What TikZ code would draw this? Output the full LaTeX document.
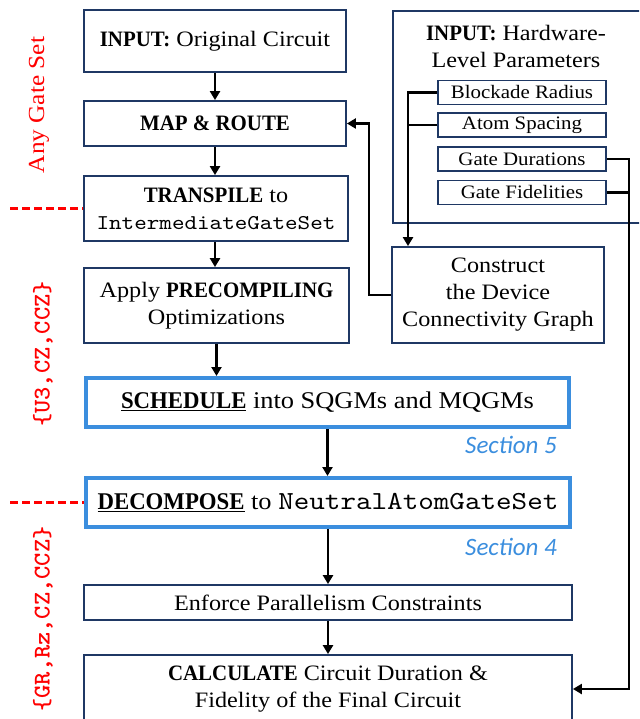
\documentclass[tikz,border=0pt]{standalone}
\usepackage{fontspec}
\setmainfont{Liberation Serif}[FakeStretch=1.1,BoldFeatures={FakeStretch=0.95}]
\newfontfamily\mytt{lmmono10-regular.otf}[FakeStretch=1.14]
\newfontfamily\redtt{lmmonolt10-bold.otf}[FakeStretch=1.05]
\newfontfamily\secfont{Carlito}
\usetikzlibrary{arrows.meta}
\definecolor{navy}{RGB}{31,56,100}
\definecolor{sblue}{RGB}{59,142,222}
\definecolor{lred}{RGB}{255,0,0}
\tikzset{
 box/.style={draw=navy, line width=1.8pt, fill=white, inner sep=0pt, align=center, font=\fontsize{22}{27}\selectfont},
 bluebox/.style={draw=sblue, line width=4pt, fill=white, inner sep=0pt, align=center, font=\fontsize{24}{29}\selectfont},
 parbox/.style={draw=navy, line width=1.5pt, fill=white, inner sep=0pt, font=\fontsize{19}{22}\selectfont, minimum width=168pt, minimum height=24pt},
 conn/.style={line width=2.6pt, draw=black},
 arr/.style={conn, -{Triangle[length=9pt,width=10pt]}},
 reddash/.style={draw=lred, line width=2.6pt, dash pattern=on 8pt off 4pt},
 redlab/.style={text=lred, rotate=90, inner sep=0pt},
 seclab/.style={text=sblue, font=\fontsize{25}{30}\secfont\itshape, anchor=east, inner sep=0pt},
}
\begin{document}
\begin{tikzpicture}[x=1pt,y=-1pt]
\useasboundingbox (0,0) rectangle (639,719);
\clip (0,0) rectangle (639,719);

% hardware parameters box
\node[draw=navy, line width=1.8pt, minimum width=330pt, minimum height=212pt, inner sep=0pt, anchor=north west] (hw) at (392,10) {};
\node[font=\fontsize{22}{27}\selectfont, align=center, inner sep=0pt] (hwt) at (516,46) {\textbf{INPUT:} Hardware-\\Level Parameters};
\node[parbox] (br) at (522,92.5) {Blockade Radius};
\node[parbox] (as) at (522,125) {Atom Spacing};
\node[parbox] (gd) at (522,159) {Gate Durations};
\node[parbox] (gf) at (522,192.5) {Gate Fidelities};

% main flow
\node[box, minimum width=262pt, minimum height=62pt] (in1) at (215,41) {\textbf{INPUT:} Original Circuit};
\node[box, minimum width=262pt, minimum height=45pt] (map) at (215,123.5) {\textbf{MAP \& ROUTE}};
\node[box, minimum width=264pt, minimum height=65pt] (trans) at (216,208.5) {\textbf{TRANSPILE} to\\{\fontsize{21}{27}\mytt IntermediateGateSet}};
\node[box, minimum width=265pt, minimum height=75pt] (pre) at (216.5,305.5) {Apply \textbf{PRECOMPILING}\\Optimizations};
\node[box, minimum width=212pt, minimum height=96pt] (con) at (498,295) {Construct\\the Device\\Connectivity Graph};
\node[bluebox, minimum width=483pt, minimum height=49pt] (sch) at (327.5,402.5) {\underline{\textbf{SCHEDULE}} into SQGMs and MQGMs};
\node[bluebox, minimum width=484pt, minimum height=49pt] (dec) at (328,502.5) {\underline{\textbf{DECOMPOSE}} to {\fontsize{26}{29}\mytt NeutralAtomGateSet}};
\node[box, minimum width=488pt, minimum height=35pt] (enf) at (328,602.5) {Enforce Parallelism Constraints};
\node[box, minimum width=488pt, minimum height=68pt] (calc) at (328,689) {\textbf{CALCULATE} Circuit Duration \&\\Fidelity of the Final Circuit};

% section labels
\node[seclab] (s5) at (557,445) {Section 5};
\node[seclab] (s4) at (557,547) {Section 4};

% red labels
\node[redlab, font=\fontsize{23}{23}\selectfont] (any) at (39,105) {Any Gate Set};
\node[redlab, font=\fontsize{24}{24}\redtt] (g1) at (43,354) {\{U3,CZ,CCZ\}};
\node[redlab, font=\fontsize{24}{24}\redtt] (g2) at (43,619) {\{GR,Rz,CZ,CCZ\}};

\coordinate (d1) at (10,208.5);
\coordinate (d2) at (10,502.5);
\draw[reddash] (d1) -- (trans.west);
\draw[reddash] (d2) -- (dec.west);

% connectors
\draw[arr] (in1.south) -- (in1.south |- map.north);
\draw[arr] (map.south) -- (map.south |- trans.north);
\draw[arr] (map.south |- trans.south) -- (map.south |- pre.north);
\draw[arr] (pre.south) -- (pre.south |- sch.north);
\draw[arr] (sch.south) -- (sch.south |- dec.north);
\draw[arr] (dec.south) -- (dec.south |- enf.north);
\draw[arr] (enf.south) -- (enf.south |- calc.north);

\coordinate (cx) at (369,0);
\coordinate (bx) at (408,0);
\coordinate (rx) at (629,0);
\draw[arr] (con.west) -- (con.west -| cx) |- (map.east);
\draw[arr] (br.west) -- (br.west -| bx) -- (bx |- con.north);
\draw[conn] (as.west) -- (as.west -| bx);
\draw[arr] (gd.east) -- (gd.east -| rx) |- (calc.east);
\draw[conn] (gf.east) -- (gf.east -| rx);
\end{tikzpicture}
\end{document}
